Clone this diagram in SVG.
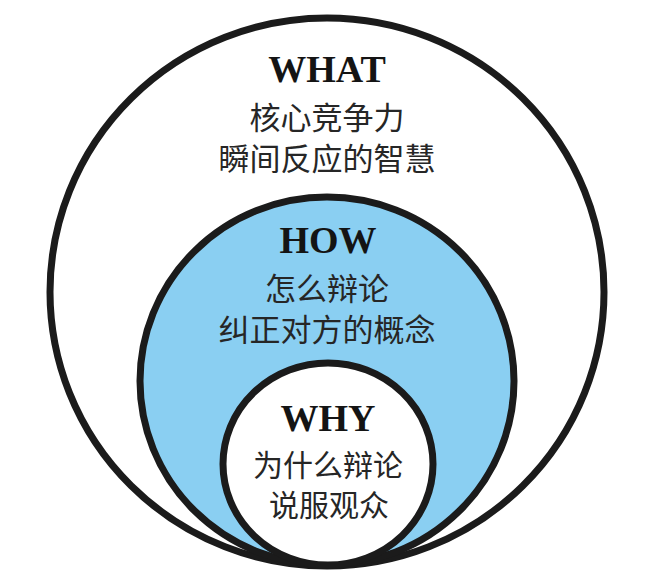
<svg xmlns="http://www.w3.org/2000/svg" width="649" height="579" viewBox="0 0 649 579">
  <style>
    .ring { stroke: #1b1b1b; stroke-width: 7; }
    .title { font-family: "Liberation Serif", "Times New Roman", serif; font-weight: bold; font-size: 38px; fill: #141414; text-anchor: middle; }
    .body { font-family: "Noto Sans CJK SC", "Noto Sans", sans-serif; font-size: 31px; fill: #262626; text-anchor: middle; }
    .small { font-size: 30px; }
  </style>
  <rect width="649" height="579" fill="#ffffff"/>
  <g id="what">
    <ellipse class="ring" cx="327" cy="292" rx="277" ry="274" fill="#ffffff"/>
    <text class="title" x="327" y="82">WHAT</text>
    <text class="body" x="327" y="129">核心竞争力</text>
    <text class="body" x="327" y="170">瞬间反应的智慧</text>
  </g>
  <g id="how">
    <ellipse class="ring" cx="327" cy="381" rx="187" ry="184" fill="#8ACFF2"/>
    <text class="title" x="328" y="253">HOW</text>
    <text class="body" x="327" y="300">怎么辩论</text>
    <text class="body" x="327" y="341">纠正对方的概念</text>
  </g>
  <g id="why">
    <ellipse class="ring" cx="328" cy="464" rx="105" ry="101" fill="#ffffff"/>
    <text class="title" x="328" y="431">WHY</text>
    <text class="body small" x="328" y="476">为什么辩论</text>
    <text class="body small" x="329" y="516">说服观众</text>
  </g>
  <g id="connectors"/>
</svg>
